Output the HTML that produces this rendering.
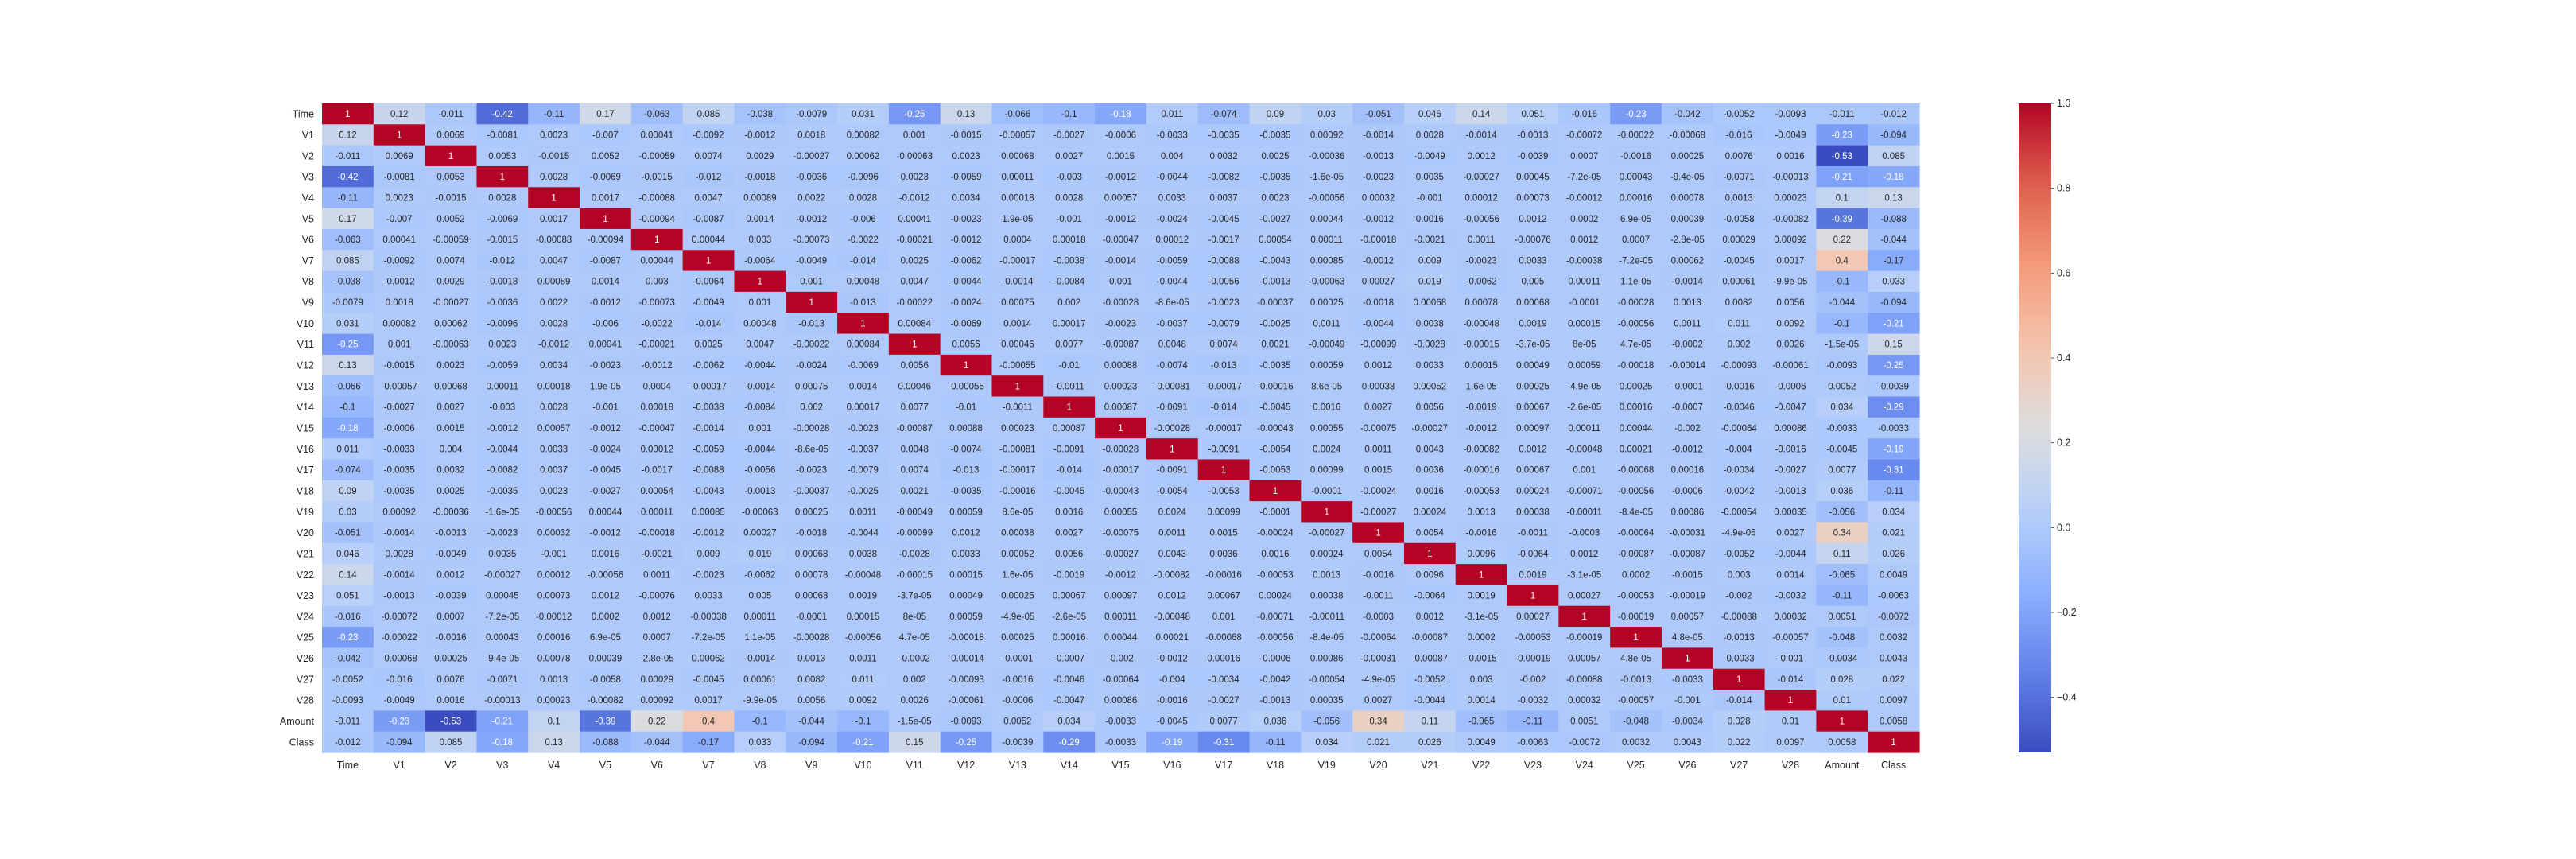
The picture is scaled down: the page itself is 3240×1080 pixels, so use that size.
<!DOCTYPE html>
<html><head><meta charset="utf-8"><style>
html,body{margin:0;padding:0;background:#fff;}
svg{display:block;font-family:"Liberation Sans",Arial,sans-serif;}
</style></head><body>
<svg id="chart" width="3240" height="1080" viewBox="0 0 3240 1080" xmlns="http://www.w3.org/2000/svg">
<rect width="3240" height="1080" fill="#fff"/>
<g id="cells"></g>
<g id="ylabels"></g>
<g id="xlabels"></g>
<defs><linearGradient id="cbgrad" x1="0" y1="1" x2="0" y2="0"></linearGradient></defs>
<g id="colorbar"></g>
</svg>
<script>
const labels = ["Time","V1","V2","V3","V4","V5","V6","V7","V8","V9","V10","V11","V12","V13","V14","V15","V16","V17","V18","V19","V20","V21","V22","V23","V24","V25","V26","V27","V28","Amount","Class"];
const rowTime = [];
const rowV1 = [0.12];
const rowV2 = [-0.011,0.0069];
const rowV3 = [-0.42,-0.0081,0.0053];
const rowV4 = [-0.11,0.0023,-0.0015,0.0028];
const rowV5 = [0.17,-0.007,0.0052,-0.0069,0.0017];
const rowV6 = [-0.063,0.00041,-0.00059,-0.0015,-0.00088,-0.00094];
const rowV7 = [0.085,-0.0092,0.0074,-0.012,0.0047,-0.0087,0.00044];
const rowV8 = [-0.038,-0.0012,0.0029,-0.0018,0.00089,0.0014,0.003,-0.0064];
const rowV9 = [-0.0079,0.0018,-0.00027,-0.0036,0.0022,-0.0012,-0.00073,-0.0049,0.001];
const rowV10 = [0.031,0.00082,0.00062,-0.0096,0.0028,-0.006,-0.0022,-0.014,0.00048,-0.013];
const rowV11 = [-0.25,0.001,-0.00063,0.0023,-0.0012,0.00041,-0.00021,0.0025,0.0047,-0.00022,0.00084];
const rowV12 = [0.13,-0.0015,0.0023,-0.0059,0.0034,-0.0023,-0.0012,-0.0062,-0.0044,-0.0024,-0.0069,0.0056];
const rowV13 = [-0.066,-0.00057,0.00068,0.00011,0.00018,1.9e-05,0.0004,-0.00017,-0.0014,0.00075,0.0014,0.00046,-0.00055];
const rowV14 = [-0.1,-0.0027,0.0027,-0.003,0.0028,-0.001,0.00018,-0.0038,-0.0084,0.002,0.00017,0.0077,-0.01,-0.0011];
const rowV15 = [-0.18,-0.0006,0.0015,-0.0012,0.00057,-0.0012,-0.00047,-0.0014,0.001,-0.00028,-0.0023,-0.00087,0.00088,0.00023,0.00087];
const rowV16 = [0.011,-0.0033,0.004,-0.0044,0.0033,-0.0024,0.00012,-0.0059,-0.0044,-8.6e-05,-0.0037,0.0048,-0.0074,-0.00081,-0.0091,-0.00028];
const rowV17 = [-0.074,-0.0035,0.0032,-0.0082,0.0037,-0.0045,-0.0017,-0.0088,-0.0056,-0.0023,-0.0079,0.0074,-0.013,-0.00017,-0.014,-0.00017,-0.0091];
const rowV18 = [0.09,-0.0035,0.0025,-0.0035,0.0023,-0.0027,0.00054,-0.0043,-0.0013,-0.00037,-0.0025,0.0021,-0.0035,-0.00016,-0.0045,-0.00043,-0.0054,-0.0053];
const rowV19 = [0.03,0.00092,-0.00036,-1.6e-05,-0.00056,0.00044,0.00011,0.00085,-0.00063,0.00025,0.0011,-0.00049,0.00059,8.6e-05,0.0016,0.00055,0.0024,0.00099,-0.0001];
const rowV20 = [-0.051,-0.0014,-0.0013,-0.0023,0.00032,-0.0012,-0.00018,-0.0012,0.00027,-0.0018,-0.0044,-0.00099,0.0012,0.00038,0.0027,-0.00075,0.0011,0.0015,-0.00024,-0.00027];
const rowV21 = [0.046,0.0028,-0.0049,0.0035,-0.001,0.0016,-0.0021,0.009,0.019,0.00068,0.0038,-0.0028,0.0033,0.00052,0.0056,-0.00027,0.0043,0.0036,0.0016,0.00024,0.0054];
const rowV22 = [0.14,-0.0014,0.0012,-0.00027,0.00012,-0.00056,0.0011,-0.0023,-0.0062,0.00078,-0.00048,-0.00015,0.00015,1.6e-05,-0.0019,-0.0012,-0.00082,-0.00016,-0.00053,0.0013,-0.0016,0.0096];
const rowV23 = [0.051,-0.0013,-0.0039,0.00045,0.00073,0.0012,-0.00076,0.0033,0.005,0.00068,0.0019,-3.7e-05,0.00049,0.00025,0.00067,0.00097,0.0012,0.00067,0.00024,0.00038,-0.0011,-0.0064,0.0019];
const rowV24 = [-0.016,-0.00072,0.0007,-7.2e-05,-0.00012,0.0002,0.0012,-0.00038,0.00011,-0.0001,0.00015,8e-05,0.00059,-4.9e-05,-2.6e-05,0.00011,-0.00048,0.001,-0.00071,-0.00011,-0.0003,0.0012,-3.1e-05,0.00027];
const rowV25 = [-0.23,-0.00022,-0.0016,0.00043,0.00016,6.9e-05,0.0007,-7.2e-05,1.1e-05,-0.00028,-0.00056,4.7e-05,-0.00018,0.00025,0.00016,0.00044,0.00021,-0.00068,-0.00056,-8.4e-05,-0.00064,-0.00087,0.0002,-0.00053,-0.00019];
const rowV26 = [-0.042,-0.00068,0.00025,-9.4e-05,0.00078,0.00039,-2.8e-05,0.00062,-0.0014,0.0013,0.0011,-0.0002,-0.00014,-0.0001,-0.0007,-0.002,-0.0012,0.00016,-0.0006,0.00086,-0.00031,-0.00087,-0.0015,-0.00019,0.00057,4.8e-05];
const rowV27 = [-0.0052,-0.016,0.0076,-0.0071,0.0013,-0.0058,0.00029,-0.0045,0.00061,0.0082,0.011,0.002,-0.00093,-0.0016,-0.0046,-0.00064,-0.004,-0.0034,-0.0042,-0.00054,-4.9e-05,-0.0052,0.003,-0.002,-0.00088,-0.0013,-0.0033];
const rowV28 = [-0.0093,-0.0049,0.0016,-0.00013,0.00023,-0.00082,0.00092,0.0017,-9.9e-05,0.0056,0.0092,0.0026,-0.00061,-0.0006,-0.0047,0.00086,-0.0016,-0.0027,-0.0013,0.00035,0.0027,-0.0044,0.0014,-0.0032,0.00032,-0.00057,-0.001,-0.014];
const rowAmount = [-0.011,-0.23,-0.53,-0.21,0.1,-0.39,0.22,0.4,-0.1,-0.044,-0.1,-1.5e-05,-0.0093,0.0052,0.034,-0.0033,-0.0045,0.0077,0.036,-0.056,0.34,0.11,-0.065,-0.11,0.0051,-0.048,-0.0034,0.028,0.01];
const rowClass = [-0.012,-0.094,0.085,-0.18,0.13,-0.088,-0.044,-0.17,0.033,-0.094,-0.21,0.15,-0.25,-0.0039,-0.29,-0.0033,-0.19,-0.31,-0.11,0.034,0.021,0.026,0.0049,-0.0063,-0.0072,0.0032,0.0043,0.022,0.0097,0.0058];
const colorbarTicks = [1.0,0.8,0.6,0.4,0.2,0.0,-0.2,-0.4];

const lower = [rowTime,rowV1,rowV2,rowV3,rowV4,rowV5,rowV6,rowV7,rowV8,rowV9,rowV10,rowV11,rowV12,rowV13,rowV14,rowV15,rowV16,rowV17,rowV18,rowV19,rowV20,rowV21,rowV22,rowV23,rowV24,rowV25,rowV26,rowV27,rowV28,rowAmount,rowClass];
const N = labels.length;
function corr(r,c){ if(r===c) return 1; return r>c ? lower[r][c] : lower[c][r]; }
let vmin = Infinity; for(let r=0;r<N;r++)for(let c=0;c<N;c++) vmin=Math.min(vmin,corr(r,c));
const vmax = 1;
const X0=405, X1=2414, Y0=130, Y1=946;
const cw=(X1-X0)/N, ch=(Y1-Y0)/N;
const xPos = i => X0 + i*cw;
const yPos = i => Y0 + i*ch;
const stops=[[59,76,192],[98,130,234],[141,176,254],[184,208,249],[221,221,221],[245,196,173],[244,154,123],[222,96,77],[180,4,38]];
function cmap(t){ t=Math.max(0,Math.min(1,t)); const f=t*8, i=Math.min(7,Math.floor(f)), u=f-i; const a=stops[i], b=stops[i+1]; return [0,1,2].map(k=>Math.round(a[k]+(b[k]-a[k])*u)); }
const norm = v => (v-vmin)/(vmax-vmin);
function lum(rgb){ const l=rgb.map(x=>{x/=255;return x<=0.03928?x/12.92:Math.pow((x+0.055)/1.055,2.4);}); return 0.2126*l[0]+0.7152*l[1]+0.0722*l[2]; }
function fmt(v){ if(v===0) return "0"; const a=Math.abs(v); if(a<1e-4){ let s=v.toExponential(1); let [m,e]=s.split("e"); m=m.replace(/\.0$/,""); const sign=e[0]==="-"?"-":"+"; let d=e.replace(/^[+-]/,""); if(d.length<2)d="0"+d; return m+"e"+sign+d; } let s=Number(v.toPrecision(2)).toString(); return s; }
const NS="http://www.w3.org/2000/svg";
const cells=document.getElementById('cells');
for(let r=0;r<N;r++){ for(let c=0;c<N;c++){
  const v=corr(r,c), rgb=cmap(norm(v));
  const g=document.createElementNS(NS,'g');
  
  
  const rect=document.createElementNS(NS,'rect');
  rect.setAttribute('x',xPos(c)); rect.setAttribute('y',yPos(r));
  rect.setAttribute('width',cw+0.6); rect.setAttribute('height',ch+0.6);
  rect.setAttribute('fill','rgb('+rgb.join(',')+')');
  g.appendChild(rect);
  const t=document.createElementNS(NS,'text');
  t.setAttribute('x',xPos(c)+cw/2); t.setAttribute('y',yPos(r)+ch/2+4);
  t.setAttribute('text-anchor','middle'); t.setAttribute('font-size','11.5');
  t.setAttribute('fill', lum(rgb)>0.408?'#262626':'#ffffff');
  t.textContent=fmt(v);
  g.appendChild(t);
  cells.appendChild(g);
}}
const yl=document.getElementById('ylabels'), xl=document.getElementById('xlabels');
labels.forEach((lab,i)=>{
  const t=document.createElementNS(NS,'text');
  
  
  t.setAttribute('x',X0-10); t.setAttribute('y',yPos(i)+ch/2+4.5);
  t.setAttribute('text-anchor','end'); t.setAttribute('font-size','12.5'); t.setAttribute('fill','#262626');
  t.textContent=lab; yl.appendChild(t);
  const u=document.createElementNS(NS,'text');
  
  
  u.setAttribute('x',xPos(i)+cw/2); u.setAttribute('y',Y1+20);
  u.setAttribute('text-anchor','middle'); u.setAttribute('font-size','12.5'); u.setAttribute('fill','#262626');
  u.textContent=lab; xl.appendChild(u);
});
// colorbar
const grad=document.getElementById('cbgrad');
for(let k=0;k<=20;k++){ const s=document.createElementNS(NS,'stop'); s.setAttribute('offset',k/20); s.setAttribute('stop-color','rgb('+cmap(k/20).join(',')+')'); grad.appendChild(s); }
const cb=document.getElementById('colorbar');
const CBX=2539, CBW=41;
const cbr=document.createElementNS(NS,'rect');


cbr.setAttribute('x',CBX); cbr.setAttribute('y',Y0); cbr.setAttribute('width',CBW); cbr.setAttribute('height',Y1-Y0); cbr.setAttribute('fill','url(#cbgrad)');
cb.appendChild(cbr);
const cbY = v => Y1 - (v-vmin)/(vmax-vmin)*(Y1-Y0);
colorbarTicks.forEach(v=>{
  const y=cbY(v);
  const l=document.createElementNS(NS,'line');
  
  
  l.setAttribute('x1',CBX+CBW); l.setAttribute('x2',CBX+CBW+4); l.setAttribute('y1',y); l.setAttribute('y2',y); l.setAttribute('stroke','#262626'); l.setAttribute('stroke-width','0.8');
  cb.appendChild(l);
  const t=document.createElementNS(NS,'text');
  
  
  t.setAttribute('x',CBX+CBW+7); t.setAttribute('y',y+4); t.setAttribute('font-size','12.5'); t.setAttribute('fill','#262626');
  t.textContent=(v<0?'\u2212':'')+Math.abs(v).toFixed(1);
  cb.appendChild(t);
});
</script>
</body></html>
